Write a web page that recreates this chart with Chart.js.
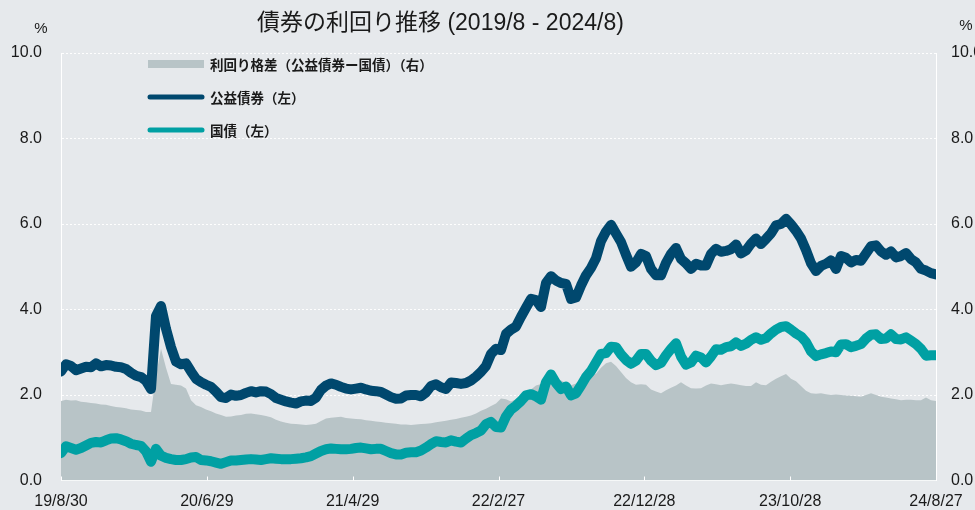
<!DOCTYPE html>
<html><head><meta charset="utf-8">
<script src="https://cdn.jsdelivr.net/npm/chart.js@4.4.1/dist/chart.umd.min.js"></script>
<style>html,body{margin:0;padding:0;background:#e6e9ec;}#wrap{width:975px;height:510px;}</style>
</head><body><div id="wrap"><canvas id="c" width="975" height="510"></canvas></div>
<script>
const TITLE = '債券の利回り推移 (2019/8 - 2024/8)';
const UNIT = '%';
const SERIES_NAMES = ['利回り格差（公益債券ー国債）（右）', '公益債券（左）', '国債（左）'];
const tickLabels = ['19/8/30', '20/6/29', '21/4/29', '22/2/27', '22/12/28', '23/10/28', '24/8/27'];
const tickDays = [0, 304, 608, 912, 1216, 1520, 1824];
const yTicks = [0, 2, 4, 6, 8, 10];
const TOTAL_DAYS = 1824;

// 公益債券 yield (%), sampled about every 10 days
const utilityYield = [
2.55,2.72,2.68,2.58,2.62,2.66,2.65,2.74,2.67,2.70,2.69,2.66,2.65,2.61,2.52,2.45,2.42,2.33,2.14,3.85,
4.08,3.55,3.12,2.78,2.72,2.74,2.55,2.38,2.30,2.24,2.19,2.08,1.95,1.93,2.01,1.98,2.00,2.05,2.09,2.06,
2.09,2.08,2.02,1.93,1.89,1.85,1.82,1.80,1.85,1.87,1.86,1.94,2.12,2.22,2.27,2.24,2.19,2.15,2.13,2.15,
2.17,2.13,2.10,2.09,2.07,2.01,1.95,1.91,1.92,1.99,2.00,2.00,1.97,2.06,2.21,2.25,2.18,2.14,2.29,2.28,
2.26,2.28,2.34,2.43,2.54,2.68,2.96,3.08,3.05,3.43,3.53,3.60,3.83,4.04,4.25,4.22,4.06,4.62,4.78,4.68,
4.62,4.60,4.25,4.28,4.56,4.80,4.97,5.20,5.60,5.82,5.98,5.78,5.58,5.28,5.00,5.10,5.30,5.25,4.95,4.80,
4.80,5.09,5.30,5.44,5.18,5.08,4.95,5.07,5.03,5.03,5.30,5.42,5.35,5.37,5.41,5.52,5.31,5.38,5.54,5.66,
5.53,5.65,5.78,5.97,6.00,6.12,5.99,5.84,5.66,5.39,5.08,4.90,5.02,5.07,5.15,4.95,5.25,5.21,5.10,5.16,
5.14,5.31,5.48,5.50,5.36,5.28,5.36,5.22,5.25,5.32,5.18,5.10,4.95,4.91,4.85,4.82
];
// 国債 yield (%)
const govYield = [
0.64,0.80,0.76,0.72,0.76,0.82,0.88,0.90,0.89,0.94,0.98,0.99,0.96,0.92,0.86,0.83,0.81,0.68,0.44,0.74,
0.58,0.53,0.50,0.48,0.48,0.50,0.54,0.55,0.48,0.47,0.45,0.42,0.39,0.43,0.47,0.47,0.48,0.49,0.50,0.49,
0.48,0.50,0.52,0.51,0.50,0.50,0.50,0.51,0.52,0.54,0.57,0.63,0.69,0.73,0.75,0.74,0.73,0.73,0.74,0.76,
0.77,0.75,0.73,0.74,0.74,0.69,0.64,0.61,0.61,0.65,0.66,0.66,0.70,0.77,0.85,0.92,0.90,0.89,0.94,0.91,
0.89,0.98,1.06,1.11,1.17,1.32,1.37,1.25,1.24,1.50,1.66,1.75,1.86,1.99,2.02,1.97,1.89,2.30,2.48,2.28,
2.14,2.20,1.99,2.04,2.22,2.42,2.56,2.76,2.96,2.98,3.13,3.12,2.95,2.82,2.73,2.80,2.96,2.96,2.80,2.70,
2.75,2.93,3.08,3.21,2.90,2.71,2.76,2.92,2.88,2.76,2.90,3.07,3.06,3.12,3.14,3.23,3.15,3.20,3.29,3.35,
3.29,3.33,3.44,3.53,3.59,3.61,3.53,3.44,3.37,3.24,3.02,2.91,2.95,2.98,3.02,3.00,3.18,3.19,3.12,3.15,
3.19,3.32,3.41,3.42,3.31,3.32,3.42,3.31,3.30,3.35,3.27,3.19,3.08,2.92,2.93,2.93
];
// 利回り格差 (%)
const yieldSpread = [
1.86,1.89,1.87,1.88,1.84,1.83,1.81,1.80,1.78,1.77,1.74,1.72,1.71,1.69,1.66,1.65,1.64,1.60,1.60,2.45,
3.08,2.64,2.26,2.24,2.22,2.15,1.88,1.76,1.72,1.66,1.62,1.57,1.53,1.49,1.50,1.52,1.53,1.56,1.57,1.55,
1.53,1.51,1.48,1.42,1.38,1.35,1.33,1.32,1.31,1.30,1.31,1.33,1.39,1.45,1.47,1.48,1.49,1.46,1.45,1.44,
1.43,1.41,1.40,1.38,1.37,1.35,1.34,1.33,1.31,1.31,1.30,1.31,1.32,1.33,1.34,1.36,1.38,1.40,1.42,1.44,
1.47,1.49,1.52,1.57,1.63,1.68,1.74,1.80,1.92,1.90,1.85,1.90,1.98,2.06,2.13,2.22,2.26,2.31,2.35,2.36,
2.34,2.28,2.23,2.27,2.32,2.38,2.44,2.50,2.64,2.74,2.78,2.68,2.54,2.40,2.30,2.24,2.25,2.24,2.13,2.08,
2.04,2.11,2.17,2.22,2.30,2.22,2.16,2.15,2.16,2.22,2.27,2.25,2.23,2.25,2.27,2.25,2.23,2.21,2.21,2.30,
2.24,2.23,2.31,2.38,2.44,2.49,2.38,2.32,2.21,2.10,2.04,2.03,2.04,2.02,2.00,2.01,2.00,1.99,1.98,1.97,
1.96,2.00,2.04,2.00,1.96,1.94,1.92,1.90,1.88,1.89,1.89,1.88,1.88,1.94,1.88,1.86
];

const COLORS = { bg: '#e6e9ec', area: '#b8c4c7', utility: '#00486e', gov: '#00a0a3', text: '#1a1a1a' };
const FONT_LAT = '"Liberation Sans", Arial, "Noto Sans CJK JP", sans-serif';

const step = TOTAL_DAYS / (utilityYield.length - 1);
const toPts = arr => arr.map((v, i) => ({ x: i * step, y: v }));

const bgPlugin = {
  id: 'bg',
  beforeDraw(chart) {
    const ctx = chart.ctx;
    ctx.save(); ctx.fillStyle = COLORS.bg; ctx.fillRect(0, 0, chart.width, chart.height); ctx.restore();
  }
};
const tickMarkPlugin = {
  id: 'tickmarks',
  afterDatasetsDraw(chart) {
    const ctx = chart.ctx, xs = chart.scales.x, b = chart.chartArea.bottom;
    ctx.save(); ctx.strokeStyle = '#ffffff'; ctx.lineWidth = 1;
    tickDays.forEach(d => {
      const px = Math.round(xs.getPixelForValue(d)) + 0.5;
      ctx.beginPath(); ctx.moveTo(px, b); ctx.lineTo(px, b - 4); ctx.stroke();
    });
    ctx.restore();
  }
};
const overlayPlugin = {
  id: 'overlay',
  afterDraw(chart) {
    const ctx = chart.ctx;
    ctx.save();
    ctx.fillStyle = COLORS.text;
    ctx.textBaseline = 'middle';
    ctx.textAlign = 'left';
    ctx.font = '23px ' + FONT_LAT;
    ctx.fillText(TITLE, 257, 24);
    ctx.font = '15px ' + FONT_LAT;
    ctx.textAlign = 'center';
    ctx.fillText(UNIT, 41, 29);
    ctx.fillText(UNIT, 966, 26);
    // legend
    const rows = [64, 97, 130];
    ctx.fillStyle = COLORS.area;
    ctx.fillRect(148, rows[0] - 4, 56, 8);
    [[COLORS.utility, rows[1]], [COLORS.gov, rows[2]]].forEach(([c, y]) => {
      ctx.strokeStyle = c; ctx.lineWidth = 5; ctx.lineCap = 'round';
      ctx.beginPath(); ctx.moveTo(150, y); ctx.lineTo(202, y); ctx.stroke();
    });
    ctx.fillStyle = COLORS.text;
    ctx.textAlign = 'left';
    ctx.font = 'bold 13.5px "Noto Sans CJK JP", sans-serif';
    SERIES_NAMES.forEach((n, i) => ctx.fillText(n, 210, rows[i] + 1));
    ctx.restore();
  }
};

new Chart(document.getElementById('c'), {
  type: 'line',
  data: {
    datasets: [
      { label: SERIES_NAMES[1], data: toPts(utilityYield), yAxisID: 'y', borderColor: COLORS.utility,
        borderWidth: 10, pointRadius: 0, tension: 0, borderJoinStyle: 'round', borderCapStyle: 'round', fill: false, order: 1 },
      { label: SERIES_NAMES[2], data: toPts(govYield), yAxisID: 'y', borderColor: COLORS.gov,
        borderWidth: 10, pointRadius: 0, tension: 0, borderJoinStyle: 'round', borderCapStyle: 'round', fill: false, order: 2 },
      { label: SERIES_NAMES[0], data: toPts(yieldSpread), yAxisID: 'y2', borderWidth: 0, borderColor: COLORS.area,
        backgroundColor: COLORS.area, pointRadius: 0, tension: 0, fill: 'origin', order: 3 }
    ]
  },
  options: {
    responsive: false, animation: false, events: [],
    layout: { padding: { top: 53, left: 0, right: 0, bottom: 0 } },
    plugins: { legend: { display: false }, tooltip: { enabled: false }, title: { display: false } },
    scales: {
      x: {
        type: 'linear', min: 0, max: TOTAL_DAYS,
        afterBuildTicks: s => { s.ticks = tickDays.map(v => ({ value: v })); },
        afterFit: s => { s.height = 29.5; },
        ticks: { autoSkip: false, maxRotation: 0, padding: 11, color: COLORS.text,
          font: { family: FONT_LAT, size: 16 },
          callback: v => tickLabels[tickDays.indexOf(v)] },
        grid: { display: false, drawTicks: false },
        border: { display: true, color: '#ffffff', width: 1 }
      },
      y: {
        position: 'left', min: 0, max: 10,
        afterBuildTicks: s => { s.ticks = yTicks.map(v => ({ value: v })); },
        afterFit: s => { s.width = 61; },
        ticks: { padding: 19, color: COLORS.text, font: { family: FONT_LAT, size: 16 }, callback: v => v.toFixed(1) },
        grid: { color: 'rgba(255,255,255,0.95)', lineWidth: 1, drawTicks: false },
        border: { display: true, color: '#ffffff', width: 1, dash: [2, 2] }
      },
      y2: {
        position: 'right', min: 0, max: 10,
        afterBuildTicks: s => { s.ticks = yTicks.map(v => ({ value: v })); },
        afterFit: s => { s.width = 39; },
        ticks: { padding: 15, color: COLORS.text, font: { family: FONT_LAT, size: 16 }, callback: v => v.toFixed(1) },
        grid: { display: false, drawTicks: false },
        border: { display: true, color: '#ffffff', width: 1 }
      }
    }
  },
  plugins: [bgPlugin, tickMarkPlugin, overlayPlugin]
});
</script></body></html>
